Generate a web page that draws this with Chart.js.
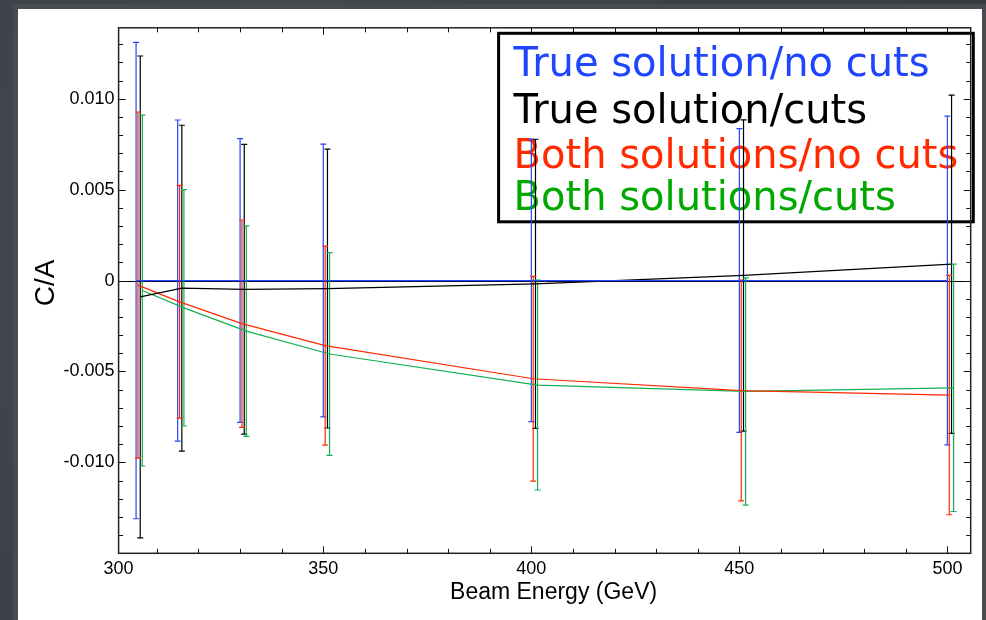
<!DOCTYPE html>
<html>
<head>
<meta charset="utf-8">
<title>C/A vs beam energy</title>
<script src="https://cdn.jsdelivr.net/npm/chart.js@4.4.1/dist/chart.umd.min.js"></script>
<style>
  html, body { margin: 0; padding: 0; }
  body {
    width: 986px; height: 620px; overflow: hidden; position: relative;
    background: radial-gradient(circle at 30% 40%, #474c55 0%, #3b4049 60%, #353a43 100%);
  }
  .frame { position: absolute; left: 13px; top: 4px; width: 973px; height: 616px; background: #4a4b4e; }
  .panel { position: absolute; left: 18px; top: 9px; width: 964px; height: 611px; background: #fff; }
  #ca_chart { position: absolute; left: 0; top: 0; }
</style>
</head>
<body>
<div class="frame"></div>
<div class="panel"></div>
<canvas id="ca_chart" width="986" height="620"></canvas>
<script>
// beam energies (GeV)
const energies = [305, 315, 330, 350, 400, 450, 500];

// C/A fit results, value and error at each energy
const trueNoCuts    = [0, 0, 0, 0, 0, 0, 0];
const trueNoCutsErr = [0.0131, 0.00883, 0.0078, 0.0075, 0.00776, 0.00835, 0.00904];
const trueCuts      = [-0.0009, -0.00042, -0.00048, -0.00044, -0.00018, 0.00028, 0.0009];
const trueCutsErr   = [0.01325, 0.00896, 0.00797, 0.00767, 0.00795, 0.00856, 0.0093];
const bothNoCuts    = [-0.00025, -0.00117, -0.00237, -0.00358, -0.0054, -0.00605, -0.0063];
const bothNoCutsErr = [0.00952, 0.0064, 0.0057, 0.00547, 0.00563, 0.00607, 0.00658];
const bothCuts      = [-0.00055, -0.0015, -0.00278, -0.00404, -0.00575, -0.0061, -0.0059];
const bothCutsErr   = [0.00965, 0.0065, 0.00579, 0.00558, 0.00577, 0.00625, 0.0068];

const xTicks = [300, 350, 400, 450, 500];
const yTicks = [-0.010, -0.005, 0, 0.005, 0.010];
const yTickLabels = ['-0.010', '-0.005', '0', '0.005', '0.010'];

const tickFont = { family: 'Liberation Sans, Arial, sans-serif', size: 18 };

// each series is nudged a little in energy so the error bars don't sit on top of each other
function series(label, color, textColor, nudge, values, errors) {
  return {
    label: label,
    textColor: textColor,
    data: energies.map((e, i) => ({ x: e + nudge, y: values[i], err: errors[i] })),
    borderColor: color,
    backgroundColor: color,
    borderWidth: 1.2,
    pointRadius: 0,
    tension: 0
  };
}

const datasets = [
  series('True solution/no cuts', '#2646ff', '#1f45ff', 0, trueNoCuts, trueNoCutsErr),
  series('True solution/cuts', '#000000', '#000000', 1, trueCuts, trueCutsErr),
  series('Both solutions/no cuts', '#ff2a00', '#ff2a00', 0.45, bothNoCuts, bothNoCutsErr),
  series('Both solutions/cuts', '#14b052', '#00a800', 1.5, bothCuts, bothCutsErr)
];

// white legend box, zero line -- drawn under the data
const underlay = {
  id: 'underlay',
  beforeDatasetsDraw(chart) {
    const { ctx, chartArea: a, scales: { y } } = chart;
    ctx.save();
    const left = a.left + 380, top = a.top + 5.5, right = a.right + 2.6, bottom = a.top + 194;
    ctx.fillStyle = '#fff';
    ctx.fillRect(left, top, right - left, bottom - top);
    ctx.lineWidth = 3;
    ctx.strokeStyle = '#000';
    ctx.strokeRect(left, top, right - left, bottom - top);
    ctx.font = '40px "DejaVu Sans", sans-serif';
    ctx.textBaseline = 'alphabetic';
    const rows = [43, 90, 135, 177];
    chart.data.datasets.forEach((ds, i) => {
      ctx.fillStyle = ds.textColor;
      ctx.fillText(ds.label, left + 15, top + rows[i]);
    });

    const y0 = Math.round(y.getPixelForValue(0)) + 0.5;
    ctx.lineWidth = 1;
    ctx.beginPath();
    ctx.moveTo(a.left, y0);
    ctx.lineTo(a.right, y0);
    ctx.stroke();
    ctx.restore();
  }
};

const errorBars = {
  id: 'errorBars',
  beforeDatasetsDraw(chart) {
    const ctx = chart.ctx, xs = chart.scales.x, ys = chart.scales.y;
    chart.data.datasets.forEach(ds => {
      ctx.save();
      ctx.strokeStyle = ds.borderColor;
      ctx.lineWidth = 1.2;
      ds.data.forEach(p => {
        const x = xs.getPixelForValue(p.x);
        const top = ys.getPixelForValue(p.y + p.err);
        const bot = ys.getPixelForValue(p.y - p.err);
        ctx.beginPath();
        ctx.moveTo(x, top); ctx.lineTo(x, bot);
        ctx.moveTo(x - 3, top); ctx.lineTo(x + 3, top);
        ctx.moveTo(x - 3, bot); ctx.lineTo(x + 3, bot);
        ctx.stroke();
      });
      ctx.restore();
    });
  }
};

// box frame with inward ticks on all four sides, plus axis titles
const frame = {
  id: 'frame',
  afterDatasetsDraw(chart) {
    const { ctx, chartArea: a, scales: { x, y } } = chart;
    ctx.save();
    ctx.strokeStyle = '#111';
    ctx.lineWidth = 1;
    ctx.beginPath();
    for (let v = 310; v < x.max; v += 10) {
      const px = Math.round(x.getPixelForValue(v)) + 0.5;
      const len = v % 50 === 0 ? 7 : 4.5;
      ctx.moveTo(px, a.bottom); ctx.lineTo(px, a.bottom - len);
      ctx.moveTo(px, a.top); ctx.lineTo(px, a.top + len);
    }
    for (let k = Math.ceil(y.min * 1000); k <= Math.floor(y.max * 1000); k++) {
      const py = Math.round(y.getPixelForValue(k / 1000)) + 0.5;
      const len = k % 5 === 0 ? 7 : 4.5;
      ctx.moveTo(a.left, py); ctx.lineTo(a.left + len, py);
      ctx.moveTo(a.right, py); ctx.lineTo(a.right - len, py);
    }
    ctx.stroke();
    ctx.lineWidth = 1.5;
    ctx.strokeStyle = '#222';
    ctx.strokeRect(a.left, a.top, a.right - a.left, a.bottom - a.top);

    ctx.fillStyle = '#000';
    ctx.textAlign = 'center';
    ctx.font = '23px "Liberation Sans", Arial, sans-serif';
    ctx.fillText('Beam Energy (GeV)', a.left + 435, a.bottom + 46);
    ctx.translate(46, a.top + 255);
    ctx.rotate(-Math.PI / 2);
    ctx.textBaseline = 'middle';
    ctx.font = '28px "Liberation Sans", Arial, sans-serif';
    ctx.fillText('C/A', 0, 0);
    ctx.restore();
  }
};

const config = {
  type: 'line',
  data: { datasets: datasets },
  options: {
    responsive: false,
    animation: false,
    layout: { padding: { top: 27.8, right: 15.3, left: 0, bottom: 0 } },
    plugins: { legend: { display: false }, tooltip: { enabled: false } },
    scales: {
      x: {
        type: 'linear',
        min: 300.8,
        max: 505.6,
        grid: { display: false, drawTicks: false },
        border: { display: false },
        afterFit: scale => { scale.height = 66.7; },
        afterBuildTicks: scale => {
          scale.ticks = xTicks.map(v => ({ value: Math.max(v, scale.min) }));
        },
        ticks: {
          autoSkip: false,
          maxRotation: 0,
          padding: 5,
          color: '#000',
          font: tickFont,
          callback: (v, i) => String(xTicks[i])
        }
      },
      y: {
        min: -0.015,
        max: 0.0139,
        grid: { display: false, drawTicks: false },
        border: { display: false },
        afterFit: scale => { scale.width = 118.6; },
        afterBuildTicks: scale => {
          scale.ticks = yTicks.map(v => ({ value: v }));
        },
        ticks: {
          padding: 4,
          color: '#000',
          font: tickFont,
          callback: (v, i) => yTickLabels[i]
        }
      }
    }
  },
  plugins: [underlay, errorBars, frame]
};

new Chart(document.getElementById('ca_chart'), config);
</script>
</body>
</html>
